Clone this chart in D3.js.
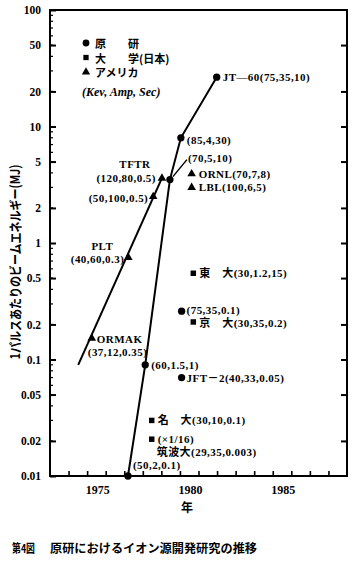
<!DOCTYPE html>
<html><head><meta charset="utf-8">
<script src="https://cdn.jsdelivr.net/npm/d3@7"></script>
<style>
body{margin:0;background:#fff}
text{font-family:"Liberation Serif","Noto Sans CJK JP",serif;font-weight:bold;fill:#000}
.jp{font-family:"Noto Sans CJK JP","Liberation Serif",sans-serif}
</style>
</head><body><svg id="c" width="355" height="562"></svg>
<script>
// ---------- data ----------
const yTickValues = [100, 50, 20, 10, 5, 2, 1, 0.5, 0.2, 0.1, 0.05, 0.02, 0.01];
const yTickLabels = ["100", "50", "20", "10", "5", "2", "1", "0.5", "0.2", "0.1", "0.05", "0.02", "0.01"];
const xTickYears = [1974, 1975, 1976, 1977, 1978, 1979, 1980, 1981, 1982, 1983, 1984, 1985, 1986, 1987, 1988];
const xLabelYears = [1975, 1980, 1985];

// 原研 (JAERI) – circles
const jaeriLabels = ["JT—60(75,35,10)", "(85,4,30)", "(70,5,10)", "(60,1.5,1)", "(50,2,0.1)", "(75,35,0.1)", "JFT－2(40,33,0.05)"];
const jaeriYears  = [1981.98, 1980.05, 1979.46, 1978.13, 1977.2, 1980.09, 1980.09];
const jaeriEnergy = [26.5, 8, 3.5, 0.09, 0.01, 0.26, 0.07];
const jaeriPath   = [4, 3, 2, 1, 0]; // indices joined by the line

// 大学(日本) – squares
const uniLabels = [["東　大(30,1.2,15)"], ["京　大(30,35,0.2)"], ["名　大(30,10,0.1)"], ["(×1/16)", "筑波大(29,35,0.003)"]];
const uniYears  = [1980.72, 1980.72, 1978.48, 1978.48];
const uniEnergy = [0.55, 0.21, 0.03, 0.0207];

// アメリカ – triangles
const usLabels = [["TFTR", "(120,80,0.5)"], ["(50,100,0.5)"], ["PLT", "(40,60,0.3)"], ["ORMAK", "(37,12,0.35)"], ["ORNL(70,7,8)"], ["LBL(100,6,5)"]];
const usYears  = [1979.03, 1978.56, 1977.22, 1975.25, 1980.63, 1980.63];
const usEnergy = [3.6, 2.5, 0.75, 0.152, 3.92, 3.0];
const usTrendYears  = [1974.52, 1979.03];
const usTrendEnergy = [0.09, 3.6];

const legendNames = ["原　　研", "大　　学(日本)", "アメリカ"];
const legendNote = "(Kev, Amp, Sec)";
const yTitle = "1パルスあたりのビームエネルギー(MJ)";
const xTitle = "年";
const captionA = "第4図";
const captionB = "原研におけるイオン源開発研究の推移";

// ---------- layout ----------
const L = 50, R = 347, T = 10, B = 476;
const svg = d3.select("#c");
const x = d3.scaleLinear().domain([1973, 1989]).range([L, R]);
const y = d3.scaleLog().domain([0.01, 100]).range([B, T]);

// minor ticks
const minor = [];
[0.01, 0.1, 1, 10].forEach(d => { for (let k = 2; k <= 9; k++) minor.push(d * k); });
svg.append("g").selectAll("line").data(minor).join("line")
  .attr("x1", L).attr("x2", L + 3).attr("y1", d => y(d)).attr("y2", d => y(d))
  .attr("stroke", "#000").attr("stroke-width", 1.2);

// left axis
const yAxisL = d3.axisLeft(y).tickValues(yTickValues).tickFormat((d, i) => yTickLabels[i]).tickSizeInner(-6).tickSizeOuter(0).tickPadding(9);
const gL = svg.append("g").attr("transform", `translate(${L},0)`).call(yAxisL);
gL.select(".domain").remove();
gL.selectAll("line").attr("stroke", "#000").attr("stroke-width", 2);
gL.selectAll("text").attr("font-size", 11.5).style("font-family", "Liberation Serif").style("font-weight", "bold");

// right axis
const gR = svg.append("g").attr("transform", `translate(${R},0)`)
  .call(d3.axisRight(y).tickValues(yTickValues.slice(1, -1)).tickFormat("").tickSizeInner(-6).tickSizeOuter(0));
gR.select(".domain").remove();
gR.selectAll("line").attr("stroke", "#000").attr("stroke-width", 2);

// bottom axis
const gB = svg.append("g").attr("transform", `translate(0,${B})`)
  .call(d3.axisBottom(x).tickValues(xTickYears).tickFormat(d => xLabelYears.includes(d) ? d : "").tickSizeInner(-5).tickSizeOuter(0).tickPadding(9));
gB.select(".domain").remove();
gB.selectAll("line").attr("stroke", "#000").attr("stroke-width", 1.6);
gB.selectAll("text").attr("font-size", 12).attr("text-anchor", "start").attr("dx", -2)
  .style("font-family", "Liberation Serif").style("font-weight", "bold");

// frame
svg.append("rect").attr("x", L).attr("y", T).attr("width", R - L).attr("height", B - T)
  .attr("fill", "none").attr("stroke", "#000").attr("stroke-width", 2);

// lines
const line = d3.line().x(d => x(d[0])).y(d => y(d[1]));
svg.append("path").datum(jaeriPath.map(i => [jaeriYears[i], jaeriEnergy[i]]))
  .attr("d", line).attr("fill", "none").attr("stroke", "#000").attr("stroke-width", 2);
svg.append("path").datum(usTrendYears.map((d, i) => [d, usTrendEnergy[i]]))
  .attr("d", line).attr("fill", "none").attr("stroke", "#000").attr("stroke-width", 2);

// markers
const sym = (type, size) => d3.symbol().type(type).size(size)();
function markers(years, vals, type, size) {
  svg.append("g").selectAll("path").data(years).join("path")
    .attr("transform", (d, i) => `translate(${x(d)},${y(vals[i])})`)
    .attr("d", sym(type, size)).attr("fill", "#000");
}
markers(jaeriYears, jaeriEnergy, d3.symbolCircle, 42);
markers(uniYears, uniEnergy, d3.symbolSquare, 30);
markers(usYears, usEnergy, d3.symbolTriangle, 32);

// labels
const FS = 11;
function label(px, py, txt, dx, dy, anchor, cls) {
  svg.append("text").attr("x", px + dx).attr("y", py + dy).attr("text-anchor", anchor || "start")
    .attr("dominant-baseline", "central").attr("font-size", FS).attr("letter-spacing", 0.45)
    .attr("class", cls || null).text(txt);
}
const jaeriOff = [[6, 0], [6, 2], [18, -22], [6, 0], [5, -11], [5, -1], [5, 0]];
jaeriLabels.forEach((t, i) => label(x(jaeriYears[i]), y(jaeriEnergy[i]), t, jaeriOff[i][0], jaeriOff[i][1]));
// pointer for (70,5,10)
svg.append("line").attr("x1", x(jaeriYears[2]) + 17).attr("y1", y(jaeriEnergy[2]) - 20)
  .attr("x2", x(jaeriYears[2]) + 3).attr("y2", y(jaeriEnergy[2]) - 3).attr("stroke", "#000").attr("stroke-width", 1.5);

const uniOff = [[[6, 0]], [[6, 1]], [[6, 0]], [[6, 0], [5, 13]]];
uniLabels.forEach((lines, i) => lines.forEach((t, j) =>
  label(x(uniYears[i]), y(uniEnergy[i]), t, uniOff[i][j][0], uniOff[i][j][1])));

const usOff = [[[-27, -14, "middle"], [-6, 0, "end"]], [[-5, 1, "end"]], [[-26, -12, "middle"], [-4, 1, "end"]],
               [[5, 1, "start"], [-4, 14, "start"]], [[7, 0, "start"]], [[7, 0, "start"]]];
usLabels.forEach((lines, i) => lines.forEach((t, j) =>
  label(x(usYears[i]), y(usEnergy[i]), t, usOff[i][j][0], usOff[i][j][1], usOff[i][j][2])));

// legend
const legTypes = [d3.symbolCircle, d3.symbolSquare, d3.symbolTriangle];
const legSizes = [36, 28, 30];
legendNames.forEach((n, i) => {
  const ly = 43 + i * 14.5;
  svg.append("path").attr("transform", `translate(86,${ly})`).attr("d", sym(legTypes[i], legSizes[i])).attr("fill", "#000");
  svg.append("text").attr("x", 95).attr("y", ly).attr("dominant-baseline", "central").attr("font-size", 11).attr("class", "jp").text(n);
});
svg.append("text").attr("x", 82).attr("y", 92).attr("dominant-baseline", "central").attr("font-size", 12)
  .attr("font-style", "italic").text(legendNote);

// titles
svg.append("text").attr("transform", "translate(14,262) rotate(-90)").attr("text-anchor", "middle")
  .attr("dominant-baseline", "central").attr("font-size", 13).attr("class", "jp")
  .attr("textLength", 195).attr("lengthAdjust", "spacingAndGlyphs").text(yTitle);
svg.append("text").attr("x", 187).attr("y", 506).attr("text-anchor", "middle").attr("dominant-baseline", "central")
  .attr("font-size", 12).attr("class", "jp").text(xTitle);
svg.append("text").attr("x", 12).attr("y", 547).attr("dominant-baseline", "central").attr("font-size", 12)
  .attr("class", "jp").attr("textLength", 23).attr("lengthAdjust", "spacingAndGlyphs").text(captionA);
svg.append("text").attr("x", 50).attr("y", 547).attr("dominant-baseline", "central").attr("font-size", 12)
  .attr("class", "jp").attr("textLength", 207).attr("lengthAdjust", "spacingAndGlyphs").text(captionB);
</script></body></html>
